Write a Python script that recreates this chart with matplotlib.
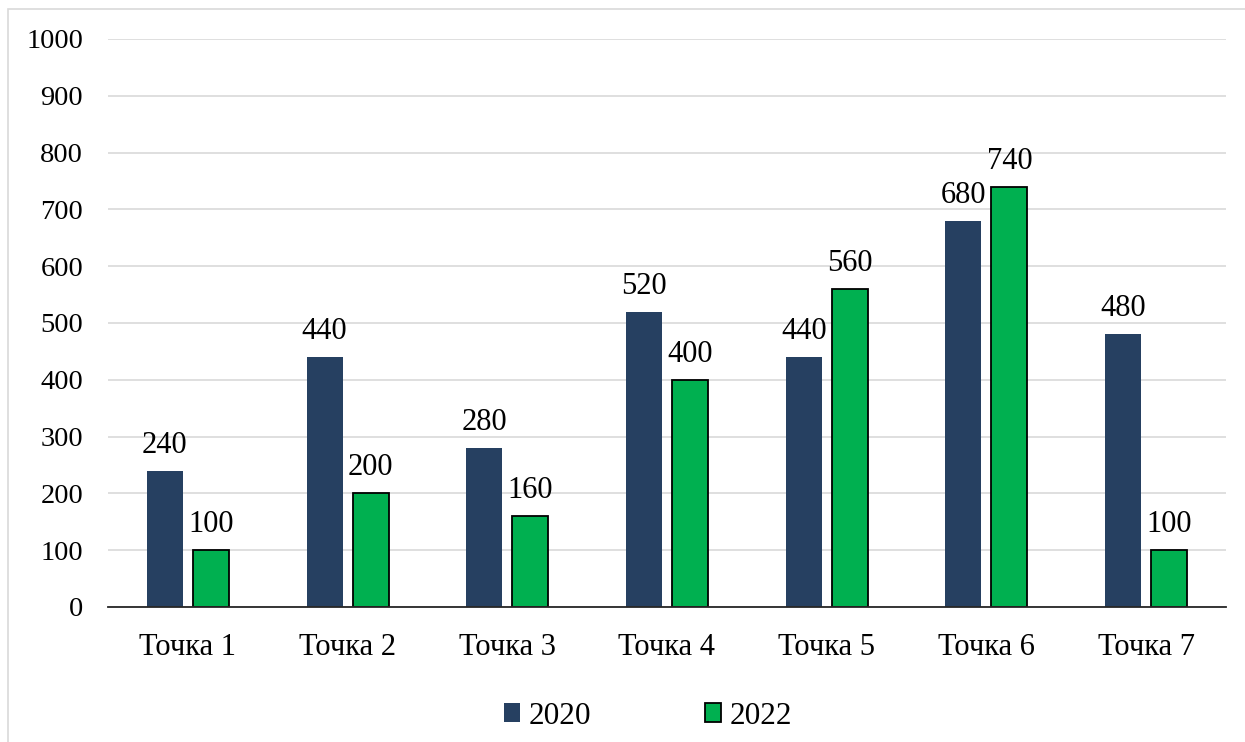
import matplotlib.pyplot as plt
import matplotlib.patches as patches
import numpy as np

plt.rcParams['font.family'] = ['Liberation Serif', 'DejaVu Serif']

# данные
categories = ['Точка 1', 'Точка 2', 'Точка 3', 'Точка 4', 'Точка 5', 'Точка 6', 'Точка 7']
values_2020 = [240, 440, 280, 520, 440, 680, 480]
values_2022 = [100, 200, 160, 400, 560, 740, 100]
series_names = ['2020', '2022']

navy = '#264061'
green = '#00B050'

fig = plt.figure(figsize=(12.45, 7.42), dpi=100)
ax = fig.add_axes([108 / 1245, 1 - 607 / 742, (1226 - 108) / 1245, (607 - 39) / 742])

# рамка вокруг всей диаграммы
frame = patches.Rectangle((8 / 1245, -0.05), 1.1, 1 - 9 / 742 + 0.05, transform=fig.transFigure,
                          fill=False, edgecolor='#D9D9D9', linewidth=1.2, zorder=0)
fig.add_artist(frame)

x = np.arange(len(categories))
w = 0.225
off = 0.144
b1 = ax.bar(x - off, values_2020, w, color=navy, label=series_names[0], zorder=3)
b2 = ax.bar(x + off, values_2022, w, color=green, edgecolor='black', linewidth=1.3,
            label=series_names[1], zorder=3)

# подписи значений над столбиками
for bars in (b1, b2):
    for r in bars:
        ax.annotate(f'{int(r.get_height())}', (r.get_x() + r.get_width() / 2, r.get_height()),
                    xytext=(0, 13), textcoords='offset points', ha='center', va='baseline',
                    fontsize=22, zorder=4)

ax.set_xlim(-0.5, len(categories) - 0.5)
ax.set_ylim(0, 1000)
ax.set_yticks(range(0, 1001, 100))
ax.set_xticks(x)
ax.set_xticklabels(categories)
ax.tick_params(axis='both', length=0)
ax.tick_params(axis='y', pad=18, labelsize=20.5)
ax.tick_params(axis='x', pad=19, labelsize=22)

ax.grid(axis='y', color='#D9D9D9', linewidth=1.2, zorder=0)
for s in ['top', 'right', 'left']:
    ax.spines[s].set_visible(False)
ax.spines['bottom'].set_color('#262626')
ax.spines['bottom'].set_linewidth(1.3)
ax.spines['bottom'].set_zorder(5)

fig.legend(loc='center', bbox_to_anchor=(648 / 1245, 1 - 716 / 742), ncol=2, frameon=False,
           fontsize=22.5, handlelength=0.52, handleheight=0.52, handletextpad=0.26,
           columnspacing=3.65)

fig.savefig('out.png', dpi=100)
